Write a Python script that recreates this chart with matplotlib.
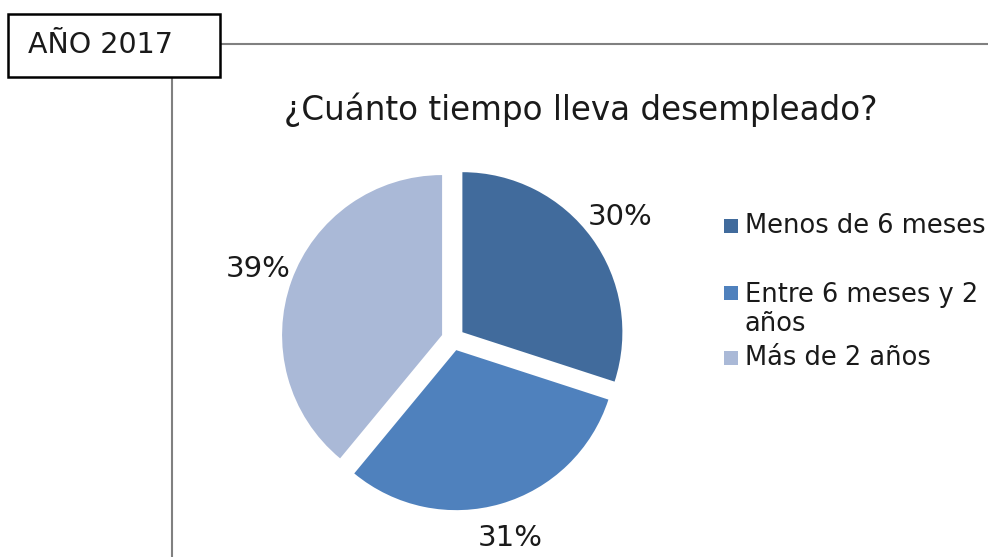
import matplotlib.pyplot as plt
from matplotlib.patches import Rectangle

# datos
categorias = ['Menos de 6 meses', 'Entre 6 meses y 2\naños', 'Más de 2 años']
valores = [30, 31, 39]
colores = ['#416B9C', '#4F81BD', '#AAB9D7']
titulo = '¿Cuánto tiempo lleva desempleado?'
etiqueta_anio = 'AÑO 2017'

plt.rcParams['font.family'] = ['DejaVu Sans']
txt = '#1a1a1a'

W, H = 988, 557
fig = plt.figure(figsize=(W / 100, H / 100), dpi=100)
ax = fig.add_axes([0, 0, 1, 1])

# pastel (explode va en unidades de datos)
ax.pie(valores, colors=colores, startangle=90, counterclock=False,
       center=(453, H - 339), radius=160, explode=[11.6] * 3,
       autopct='%1.0f%%', pctdistance=1.22, frame=True,
       textprops=dict(fontsize=21, color=txt))
ax.set_xlim(0, W)
ax.set_ylim(0, H)
ax.set_aspect('equal')
ax.axis('off')

# lineas de la plantilla
ax.plot([220, W], [H - 44, H - 44], color='#808080', lw=1.5)
ax.plot([172, 172], [H - 77, 0], color='#808080', lw=1.5)
ax.add_patch(Rectangle((8, H - 77), 212, 63, facecolor='white', edgecolor='black', lw=1.8, zorder=3))
ax.text(28, H - 45, etiqueta_anio, ha='left', va='center', fontsize=20.5, color=txt, zorder=4)

ax.text(581, H - 110, titulo, ha='center', va='center', fontsize=23.5, color=txt)

# leyenda
ys_texto = [226, 309.5, 358]
ys_cuadro = [226, 293, 358]
for c, lab, yt, yc in zip(colores, categorias, ys_texto, ys_cuadro):
    ax.add_patch(Rectangle((724, H - yc - 7), 14, 14, facecolor=c, edgecolor='none'))
    ax.text(745, H - yt, lab, ha='left', va='center', fontsize=18.5, color=txt, linespacing=1.15)

fig.savefig('out.png', dpi=100)
